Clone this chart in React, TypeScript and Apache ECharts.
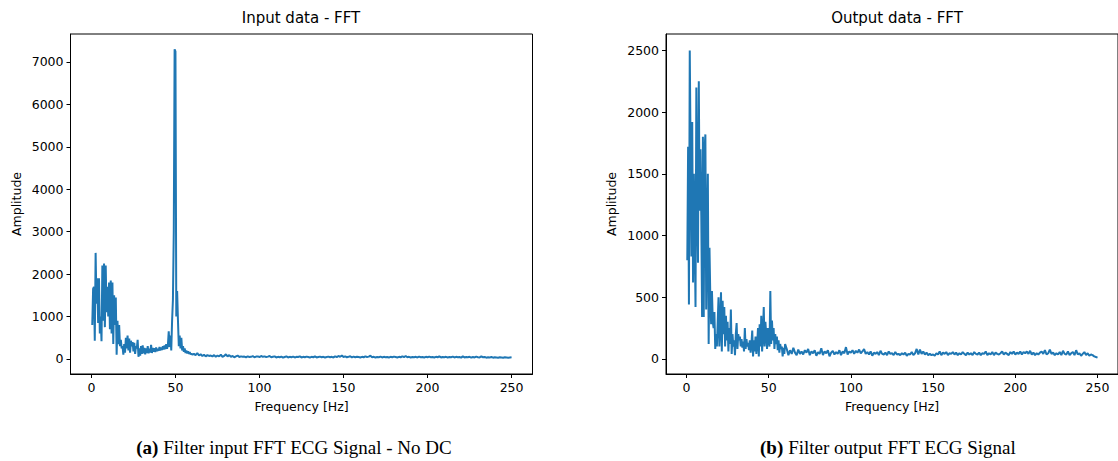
import React, { useEffect, useRef } from "react";
import * as echarts from "echarts";

// Frequency bins: low band 0.5..60 Hz every 0.5 Hz, tail 61..250 Hz every 1 Hz
const LOW_START = 0.5;
const LOW_STEP = 0.5;
const TAIL_START = 61;
const TAIL_STEP = 1;

const inputLow = [
  800, 1650, 1700, 430, 2500, 1300, 1900, 850, 1900, 600,
  1000, 420, 2200, 900, 2250, 750, 2200, 1100, 1700, 1000,
  1800, 700, 1850, 600, 1800, 350, 1500, 800, 1450, 100,
  900, 350, 800, 300, 450, 250, 300, 100, 350, 150,
  500, 250, 550, 200, 480, 150, 430, 300, 400, 180,
  380, 120, 300, 250, 450, 50, 250, 80, 300, 120,
  320, 130, 260, 110, 250, 140, 300, 130, 240, 150,
  330, 140, 260, 170, 250, 160, 270, 180, 240, 190,
  280, 200, 270, 210, 300, 220, 320, 230, 350, 240,
  320, 650, 280, 550, 200, 900, 1400, 3000, 7300, 7250,
  1000, 1600, 900, 300, 550, 250, 500, 200, 300, 170,
  250, 140, 200, 130, 180, 120, 160, 110, 130, 100,
];

const inputTail = [
  120, 90, 140, 80, 110, 70, 100, 60, 90, 70,
  80, 60, 90, 50, 80, 60, 100, 50, 70, 110,
  60, 90, 50, 70, 40, 60, 80, 45, 60, 50,
  55, 40, 60, 45, 50, 65, 40, 55, 60, 45,
  70, 50, 60, 45, 55, 70, 40, 50, 60, 35,
  50, 40, 55, 30, 45, 60, 35, 50, 40, 55,
  35, 50, 45, 60, 35, 50, 40, 55, 45, 35,
  50, 40, 60, 35, 45, 55, 40, 50, 35, 45,
  55, 40, 50, 35, 60, 45, 70, 50, 80, 45,
  60, 40, 50, 65, 35, 55, 40, 50, 45, 35,
  50, 40, 60, 45, 55, 75, 40, 50, 35, 45,
  40, 55, 35, 50, 40, 45, 35, 50, 40, 55,
  45, 35, 50, 40, 60, 45, 70, 40, 50, 35,
  45, 40, 50, 35, 55, 40, 45, 35, 50, 40,
  55, 40, 45, 35, 50, 40, 60, 35, 45, 40,
  50, 35, 45, 40, 55, 35, 50, 40, 45, 30,
  60, 35, 45, 40, 50, 30, 45, 35, 55, 40,
  35, 60, 40, 45, 30, 40, 35, 45, 30, 40,
  35, 30, 40, 35, 30, 40, 35, 30, 35, 40,
];

const outputLow = [
  800, 1720, 440, 2500, 1700, 830, 1920, 620, 1500, 1000,
  420, 2200, 1300, 780, 2250, 1200, 1700, 1160, 340, 1800,
  340, 1700, 1820, 400, 1000, 1500, 120, 900, 500, 280,
  550, 300, 250, 380, 80, 200, 100, 300, 500, 100,
  250, 540, 60, 470, 200, 420, 100, 350, 150, 300,
  60, 250, 120, 400, 40, 200, 100, 150, 30, 200,
  290, 80, 200, 150, 180, 100, 160, 90, 140, 60,
  250, 80, 160, 100, 130, 70, 150, 50, 120, 230,
  20, 150, 60, 180, 40, 120, 250, 20, 280, 100,
  350, 60, 200, 420, 100, 300, 200, 80, 250, 150,
  100, 550, 120, 310, 150, 250, 80, 200, 120, 180,
  70, 150, 50, 120, 80, 100, 20, 90, 40, 120,
];

const outputTail = [
  80, 30, 70, 40, 90, 50, 30, 75, 40, 60,
  35, 70, 50, 80, 30, 60, 45, 70, 25, 55,
  40, 85, 30, 60, 45, 70, 20, 50, 65, 35,
  55, 40, 70, 30, 60, 45, 95, 35, 60, 50,
  70, 40, 65, 50, 75, 45, 60, 80, 40, 55,
  35, 60, 25, 50, 40, 55, 30, 65, 40, 35,
  50, 30, 60, 40, 45, 30, 55, 35, 40, 30,
  45, 35, 50, 25, 40, 35, 55, 30, 45, 80,
  35, 75, 40, 60, 35, 50, 30, 40, 30, 35,
  25, 45, 35, 60, 30, 50, 40, 55, 30, 45,
  40, 55, 35, 50, 30, 45, 35, 55, 40, 30,
  50, 35, 45, 30, 55, 40, 35, 50, 30, 45,
  40, 60, 30, 45, 35, 55, 30, 50, 40, 35,
  45, 60, 35, 50, 40, 30, 55, 40, 60, 35,
  50, 40, 60, 35, 55, 45, 60, 40, 65, 35,
  50, 30, 45, 35, 50, 60, 40, 70, 35, 45,
  75, 40, 50, 30, 45, 35, 55, 30, 65, 40,
  35, 60, 30, 45, 55, 30, 70, 35, 45, 25,
  40, 55, 30, 45, 25, 35, 30, 20, 15, 10,
];

const xTicks = [0, 50, 100, 150, 200, 250];
const inputYTicks = [0, 1000, 2000, 3000, 4000, 5000, 6000, 7000];
const outputYTicks = [0, 500, 1000, 1500, 2000, 2500];

const titles = ["Input data - FFT", "Output data - FFT"];
const xName = "Frequency [Hz]";
const yName = "Amplitude";
const captionLabels = ["(a)", "(b)"];
const captionTexts = ["Filter input FFT ECG Signal - No DC", "Filter output FFT ECG Signal"];

function toPairs(low: number[], tail: number[]) {
  const pts: number[][] = [];
  low.forEach((v, i) => pts.push([LOW_START + i * LOW_STEP, v]));
  tail.forEach((v, i) => pts.push([TAIL_START + i * TAIL_STEP, v]));
  return pts;
}

const FONT = "DejaVu Sans";
const TICK_FS = 12.5;
const plain = (v: number) => String(v);

function xAxisCfg(gridIndex: number) {
  return {
    type: "value",
    gridIndex,
    min: -12.45,
    max: 262.45,
    name: xName,
    nameLocation: "middle",
    nameGap: 26,
    nameTextStyle: { color: "#000", fontFamily: FONT, fontSize: TICK_FS },
    splitLine: { show: false },
    axisLine: { show: true, onZero: false, lineStyle: { color: "#000", width: 1 } },
    axisTick: { show: true, length: 4, inside: false, lineStyle: { color: "#000" }, customValues: xTicks },
    axisLabel: { color: "#000", fontFamily: FONT, fontSize: TICK_FS, margin: 7, customValues: xTicks, formatter: plain },
  };
}

function yAxisCfg(gridIndex: number, min: number, max: number, ticks: number[]) {
  return {
    type: "value",
    gridIndex,
    min,
    max,
    name: yName,
    nameLocation: "middle",
    nameGap: 48,
    nameTextStyle: { color: "#000", fontFamily: FONT, fontSize: TICK_FS },
    splitLine: { show: false },
    axisLine: { show: true, onZero: false, lineStyle: { color: "#000", width: 1 } },
    axisTick: { show: true, length: 4, inside: false, lineStyle: { color: "#000" }, customValues: ticks },
    axisLabel: { color: "#000", fontFamily: FONT, fontSize: TICK_FS, margin: 7, customValues: ticks, formatter: plain },
  };
}

export default function App() {
  const ref = useRef<HTMLDivElement>(null);
  useEffect(() => {
    document.body.style.margin = "0";
    if (!ref.current) return;
    const chart = echarts.init(ref.current, null, { renderer: "svg" });
    const lineStyle = { color: "#1f77b4", width: 2 };
    const capStyle = (i: number, x: number) => ({
      type: "text",
      x,
      y: 447,
      style: {
        text: `{b|${captionLabels[i]}} ${captionTexts[i]}`,
        fill: "#000",
        font: `19px "Liberation Serif"`,
        textAlign: "center",
        textVerticalAlign: "middle",
        rich: { b: { fontWeight: "bold", fontFamily: "Liberation Serif", fontSize: 19, fill: "#000" } },
      },
    });
    chart.setOption({
      animation: false,
      backgroundColor: "#fff",
      grid: [
        { left: 70.5, top: 34, width: 462, height: 340, show: true, borderColor: "#000", borderWidth: 1, backgroundColor: "transparent" },
        { left: 666, top: 34, width: 462, height: 340, show: true, borderColor: "#000", borderWidth: 1, backgroundColor: "transparent" },
      ],
      xAxis: [xAxisCfg(0), xAxisCfg(1)],
      yAxis: [
        yAxisCfg(0, -355, 7660, inputYTicks),
        yAxisCfg(1, -123, 2634, outputYTicks),
      ],
      series: [
        {
          type: "line",
          xAxisIndex: 0,
          yAxisIndex: 0,
          data: toPairs(inputLow, inputTail),
          showSymbol: false,
          symbol: "none",
          lineStyle,
          itemStyle: { color: "#1f77b4" },
        },
        {
          type: "line",
          xAxisIndex: 1,
          yAxisIndex: 1,
          data: toPairs(outputLow, outputTail),
          showSymbol: false,
          symbol: "none",
          lineStyle,
          itemStyle: { color: "#1f77b4" },
        },
      ],
      graphic: [
        {
          type: "text",
          x: 301,
          y: 18,
          style: { text: titles[0], fill: "#000", font: `15px "${FONT}"`, textAlign: "center", textVerticalAlign: "middle" },
        },
        {
          type: "text",
          x: 897,
          y: 18,
          style: { text: titles[1], fill: "#000", font: `15px "${FONT}"`, textAlign: "center", textVerticalAlign: "middle" },
        },
        capStyle(0, 294),
        capStyle(1, 888),
      ],
    });
    return () => chart.dispose();
  }, []);
  return <div ref={ref} style={{ width: 1118, height: 461 }} />;
}
